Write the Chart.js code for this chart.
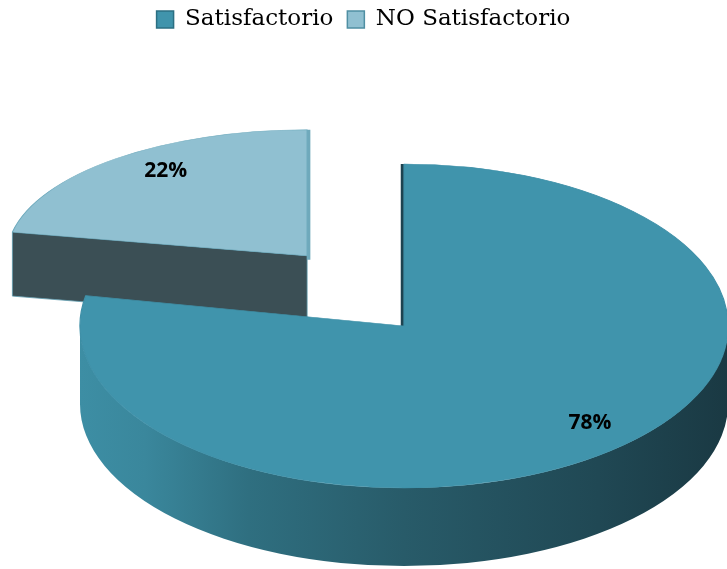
<!DOCTYPE html>
<html><head><meta charset="utf-8">
<script src="https://cdn.jsdelivr.net/npm/chart.js@4.4.0/dist/chart.umd.min.js"></script>
<style>html,body{margin:0;padding:0;background:#fff;} canvas{display:block;}</style>
</head><body>
<canvas id="c" width="727" height="569"></canvas>
<script>
// ---- data ----
const categories = ['Satisfactorio', 'NO Satisfactorio'];
const values = [78, 22];
const valueLabels = ['78%', '22%'];

// ---- style ----
const topColors = ['#4094ac', '#90c0d1'];
const borderColors = ['#3f90a8', '#6eaabd'];
const legendStroke = ['#2b6f82', '#4f8fa3'];
const radialFaceColors = ['#1d4350', '#3b4f55'];
const sliverColors = ['#1d4350', '#6fa9bb'];
const pieCenter = {x: 404, y: 326};
const pieRx = 324;
const sliceStyle = [
  {explode: 0,   scale: 1.0,   tilt: 0.5,  depth: 78, labelRx: 0.90, labelRy: 0.78},
  {explode: 152, scale: 0.926, tilt: 0.42, depth: 64, labelRx: 0.74, labelRy: 0.87}
];
const explodeTilt = 0.6;

const pie3d = {
  id: 'pie3d',
  beforeDatasetsDraw(chart) {
    const ctx = chart.ctx;
    const arcs = chart.getDatasetMeta(0).data;
    const geo = arcs.map((arc, i) => {
      const st = sliceStyle[i];
      const mid = (arc.startAngle + arc.endAngle) / 2;
      const cx = pieCenter.x + Math.cos(mid) * st.explode;
      const cy = pieCenter.y + Math.sin(mid) * st.explode * explodeTilt;
      const rx = pieRx * st.scale;
      const ry = rx * st.tilt;
      return {arc, i, cx, cy, rx, ry, h: st.depth, mid, st};
    });
    const order = geo.slice().sort((a, b) => a.cy - b.cy);
    const P = (g, a) => ({x: g.cx + g.rx * Math.cos(a), y: g.cy + g.ry * Math.sin(a)});

    order.forEach(g => {
      const s = g.arc.startAngle, e = g.arc.endAngle;
      // curved outer side (front-facing angles)
      [[0, Math.PI], [2 * Math.PI, 3 * Math.PI], [-2 * Math.PI, -Math.PI]].forEach(([lo, hi]) => {
        const a0 = Math.max(s, lo), a1 = Math.min(e, hi);
        if (a1 <= a0) return;
        const grad = ctx.createLinearGradient(g.cx - g.rx, 0, g.cx + g.rx, 0);
        grad.addColorStop(0, '#3d8ea4');
        grad.addColorStop(0.1, '#3a879c');
        grad.addColorStop(0.26, '#2f6f80');
        grad.addColorStop(0.5, '#285b69');
        grad.addColorStop(0.8, '#204854');
        grad.addColorStop(1, '#1a3943');
        ctx.save();
        ctx.beginPath();
        ctx.ellipse(g.cx, g.cy, g.rx, g.ry, 0, a0, a1, false);
        ctx.ellipse(g.cx, g.cy + g.h, g.rx, g.ry, 0, a1, a0, true);
        ctx.closePath();
        ctx.fillStyle = grad;
        ctx.fill();
        ctx.restore();
      });
      // radial faces
      [[s, 1], [e, -1]].forEach(([a, sign]) => {
        const nx = sign * Math.sin(a), ny = -sign * Math.cos(a);
        const V = {x: g.cx, y: g.cy}, E = P(g, a);
        ctx.save();
        if (Math.abs(ny) < 0.05) {
          ctx.beginPath();
          ctx.moveTo(V.x + nx * 1.5, V.y + 4);
          ctx.lineTo(E.x + nx * 1.5, E.y);
          ctx.lineWidth = 3.5;
          ctx.strokeStyle = sliverColors[g.i];
          ctx.stroke();
        } else if (ny > 0) {
          ctx.beginPath();
          ctx.moveTo(V.x, V.y);
          ctx.lineTo(E.x, E.y);
          ctx.lineTo(E.x, E.y + g.h);
          ctx.lineTo(V.x, V.y + g.h);
          ctx.closePath();
          ctx.fillStyle = radialFaceColors[g.i];
          ctx.fill();
          ctx.strokeStyle = '#5d9aad';
          ctx.lineWidth = 0.8;
          ctx.stroke();
        }
        ctx.restore();
      });
      // top face, drawn by the library's arc element
      const arc = g.arc;
      ctx.save();
      ctx.translate(g.cx, g.cy);
      ctx.scale(g.rx / arc.outerRadius, g.ry / arc.outerRadius);
      ctx.translate(-arc.x, -arc.y);
      arc.draw(ctx);
      ctx.restore();
    });

    // value labels
    ctx.save();
    ctx.font = 'bold 21px "Open Sans", Lato, sans-serif';
    ctx.fillStyle = '#000';
    ctx.textAlign = 'center';
    ctx.textBaseline = 'middle';
    geo.forEach(g => {
      ctx.fillText(valueLabels[g.i],
        g.cx + Math.cos(g.mid) * g.rx * g.st.labelRx,
        g.cy + Math.sin(g.mid) * g.ry * g.st.labelRy);
    });
    ctx.restore();
    return false;
  }
};

new Chart(document.getElementById('c'), {
  type: 'doughnut',
  data: {
    labels: categories,
    datasets: [{
      data: values,
      backgroundColor: topColors,
      borderColor: borderColors,
      borderWidth: 1,
      offset: 0
    }]
  },
  options: {
    responsive: false,
    animation: false,
    cutout: 0,
    rotation: 0,
    events: [],
    layout: {padding: {top: -6}},
    plugins: {
      tooltip: {enabled: false},
      legend: {
        position: 'top',
        labels: {
          font: {family: '"DejaVu Serif", serif', size: 23},
          color: '#000',
          boxWidth: 17,
          boxHeight: 17,
          padding: 14,
          generateLabels: () => categories.map((t, i) => ({
            text: t, fillStyle: topColors[i], strokeStyle: legendStroke[i],
            lineWidth: 1.5, hidden: false, index: i, fontColor: '#000'
          }))
        }
      }
    }
  },
  plugins: [pie3d]
});
</script>
</body></html>
